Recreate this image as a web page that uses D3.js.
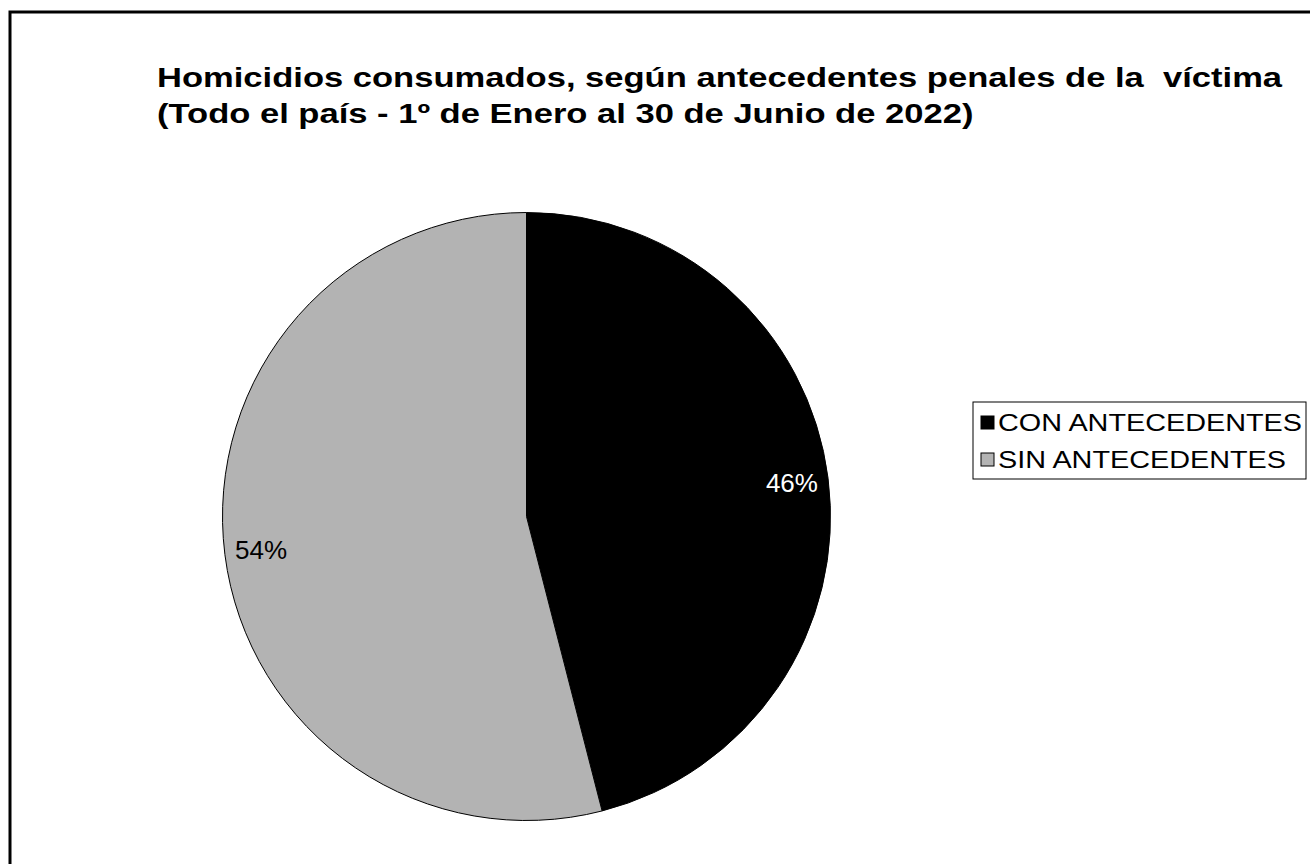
<html>

<head>
    <script src="https://cdnjs.cloudflare.com/ajax/libs/d3/7.8.5/d3.min.js"></script>
    <style>
        body { margin: 0; background: #fff; }
        text { font-family: Arial, "Liberation Sans", sans-serif; white-space: pre; }
    </style>
</head>

<body>
    <script>
        var categories = ["CON ANTECEDENTES", "SIN ANTECEDENTES"];
        var values = [46, 54];
        var colors = ["#000000", "#b3b3b3"];
        var labelColors = ["#ffffff", "#000000"];
        var titleLines = [
            "Homicidios consumados, según antecedentes penales de la  víctima",
            "(Todo el país - 1º de Enero al 30 de Junio de 2022)"
        ];

        window.onload = function () {

            var w = 1310,
                h = 864;

            var svg = d3.select("body")
                .append("svg")
                .attr("width", w)
                .attr("height", h);

            // outer frame, runs off the right / bottom edge
            svg.append("rect")
                .attr("x", 10)
                .attr("y", 12)
                .attr("width", 1400)
                .attr("height", 1000)
                .style("fill", "none")
                .style("stroke", "#000")
                .style("stroke-width", 3);

            // the original text is stretched sideways, hence the scale
            svg.selectAll(".title")
                .data(titleLines)
                .enter()
                .append("text")
                .attr("class", "title")
                .attr("transform", function (d, i) { return "translate(157," + (87 + i * 36) + ") scale(1.28,1)"; })
                .style("font-size", "27px")
                .style("font-weight", "bold")
                .text(function (d) { return d; });

            var cx = 526.5,
                cy = 516.5,
                r = 304;

            var pie = d3.pie().sort(null).value(function (d) { return d; });
            var arcs = pie(values);

            var arc = d3.arc().innerRadius(0).outerRadius(r);
            var labelArc = d3.arc().innerRadius(r * 0.76).outerRadius(r);

            var g = svg.append("g")
                .attr("transform", "translate(" + cx + "," + cy + ")");

            g.selectAll("path")
                .data(arcs)
                .enter()
                .append("path")
                .attr("d", arc)
                .style("fill", function (d, i) { return colors[i]; })
                .style("stroke", "#000")
                .style("stroke-width", 1);

            g.selectAll(".lbl")
                .data(arcs)
                .enter()
                .append("text")
                .attr("class", "lbl")
                .attr("transform", function (d) { return "translate(" + labelArc.centroid(d) + ")"; })
                .attr("text-anchor", "middle")
                .attr("dy", "0.35em")
                .style("font-size", "26px")
                .style("fill", function (d, i) { return labelColors[i]; })
                .text(function (d, i) { return values[i] + "%"; });

            // legend
            var legend = svg.append("g").attr("transform", "translate(973,402)");

            legend.append("rect")
                .attr("width", 333)
                .attr("height", 77)
                .style("fill", "#fff")
                .style("stroke", "#000")
                .style("stroke-width", 1);

            var rows = legend.selectAll(".row")
                .data(categories)
                .enter()
                .append("g")
                .attr("class", "row")
                .attr("transform", function (d, i) { return "translate(8," + (21 + i * 37) + ")"; });

            rows.append("rect")
                .attr("x", 0)
                .attr("y", -7)
                .attr("width", 13)
                .attr("height", 13)
                .style("fill", function (d, i) { return colors[i]; })
                .style("stroke", "#000")
                .style("stroke-width", 1);

            rows.append("text")
                .attr("transform", "translate(17,0) scale(1.2,1)")
                .attr("dy", "0.35em")
                .style("font-size", "24px")
                .text(function (d) { return d; });
        }
    </script>
</body>

</html>
